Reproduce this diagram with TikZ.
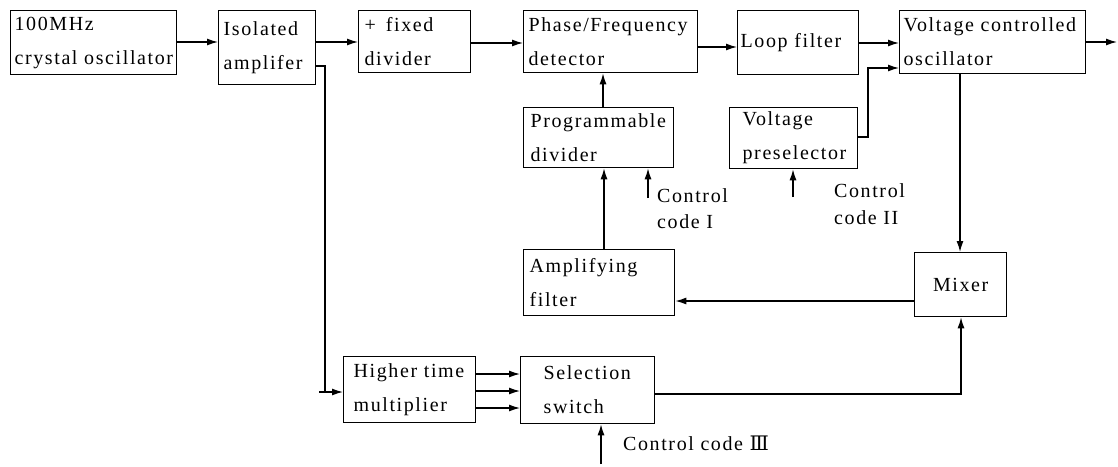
\documentclass[tikz,border=0pt]{standalone}
\usepackage{fontspec}
\setmainfont[LetterSpace=8]{Liberation Serif}
\newfontfamily\romfont{DejaVu Serif}
\usetikzlibrary{arrows.meta}
\begin{document}
\begin{tikzpicture}[x=1pt,y=-1pt,
  box/.style={draw, line width=1.3pt, anchor=north west, inner ysep=0pt,
    align=left, font=\fontsize{20}{34}\selectfont},
  lbl/.style={anchor=base west, inner sep=0pt, font=\fontsize{20}{34}\selectfont},
  conn/.style={line width=1.3pt},
  arr/.style={conn, -{Latex[length=11pt,width=7pt]}}]
\useasboundingbox (0,0) rectangle (1118,466);
% boxes
\node[box, inner xsep=4pt, text width=158pt, minimum height=64pt] (crys) at (10,10) {100MHz\\crystal oscillator};
\node[box, inner xsep=5pt, text width=87pt, minimum height=74pt] (iso) at (218,10) {Isolated\\amplifer};
\node[box, inner xsep=6pt, text width=100pt, minimum height=62pt] (fix) at (358,10) {+\enspace fixed\\divider};
\node[box, inner xsep=5pt, text width=164pt, minimum height=62pt] (pfd) at (523,10) {Phase/Frequency\\detector};
\node[box, inner xsep=3pt, text width=115pt, minimum height=64pt] (loop) at (737,10) {Loop filter};
\node[box, inner xsep=4pt, text width=178pt, minimum height=63pt] (vco) at (899,10) {Voltage controlled\\oscillator};
\node[box, inner xsep=7pt, text width=136pt, minimum height=60pt] (prog) at (523,107) {Programmable\\divider};
\node[box, inner xsep=13pt, text width=102pt, minimum height=61pt] (vpre) at (729,107) {Voltage\\preselector};
\node[box, inner xsep=6pt, text width=139pt, minimum height=66pt] (amp) at (523,249) {Amplifying\\filter};
\node[box, align=center, minimum width=92pt, minimum height=64pt] (mix) at (914,252) {Mixer};
\node[box, inner xsep=10pt, text width=112pt, minimum height=66pt] (hig) at (343,356) {Higher time\\multiplier};
\node[box, inner xsep=23pt, text width=88pt, minimum height=67pt] (sel) at (520,356) {Selection\\switch};
% labels
\node[lbl] (c1a) at (657,202) {Control};
\node[lbl] (c1b) at (657,228) {code I};
\node[lbl] (c2a) at (834,197) {Control};
\node[lbl] (c2b) at (834,224) {code II};
\node[lbl] (c3) at (623,450) {Control code {\romfont Ⅲ}};
% coordinates
\coordinate (out) at (1117,42);
\coordinate (tapA) at (325,66);
\coordinate (tapB) at (325,392);
\coordinate (stub) at (319,392);
\coordinate (vpA) at (868,137);
\coordinate (vpB) at (868,68);
\coordinate (sm) at (961,394);
\coordinate (c1s) at (648,198);
\coordinate (c2s) at (793,197);
\coordinate (c3s) at (601,464);
% connectors
\draw[arr] (crys.east |- 0,42) -- (iso.west |- 0,42);
\draw[arr] (iso.east |- 0,42) -- (fix.west |- 0,42);
\draw[arr] (fix.east |- 0,43) -- (pfd.west |- 0,43);
\draw[arr] (pfd.east |- 0,47) -- (loop.west |- 0,47);
\draw[arr] (loop.east |- 0,43) -- (vco.west |- 0,43);
\draw[arr] (vco.east |- 0,42) -- (out);
\draw[arr] (vpre.east |- vpA) -- (vpA) -- (vpB) -- (vco.west |- vpB);
\draw[arr] (vco.south -| 960,0) -- (mix.north -| 960,0);
\draw[arr] (mix.west |- 0,301) -- (amp.east |- 0,301);
\draw[arr] (amp.north -| 604,0) -- (prog.south -| 604,0);
\draw[arr] (prog.north -| 603,0) -- (pfd.south -| 603,0);
\draw[arr] (c1s) -- (prog.south -| c1s);
\draw[arr] (c2s) -- (vpre.south -| c2s);
\draw[conn] (iso.east |- tapA) -- (tapA) -- (tapB);
\draw[arr] (stub) -- (hig.west |- stub);
\draw[arr] (hig.east |- 0,374) -- (sel.west |- 0,374);
\draw[arr] (hig.east |- 0,391) -- (sel.west |- 0,391);
\draw[arr] (hig.east |- 0,408) -- (sel.west |- 0,408);
\draw[arr] (sel.east |- sm) -- (sm) -- (mix.south -| sm);
\draw[arr] (c3s) -- (sel.south -| c3s);
\end{tikzpicture}
\end{document}
